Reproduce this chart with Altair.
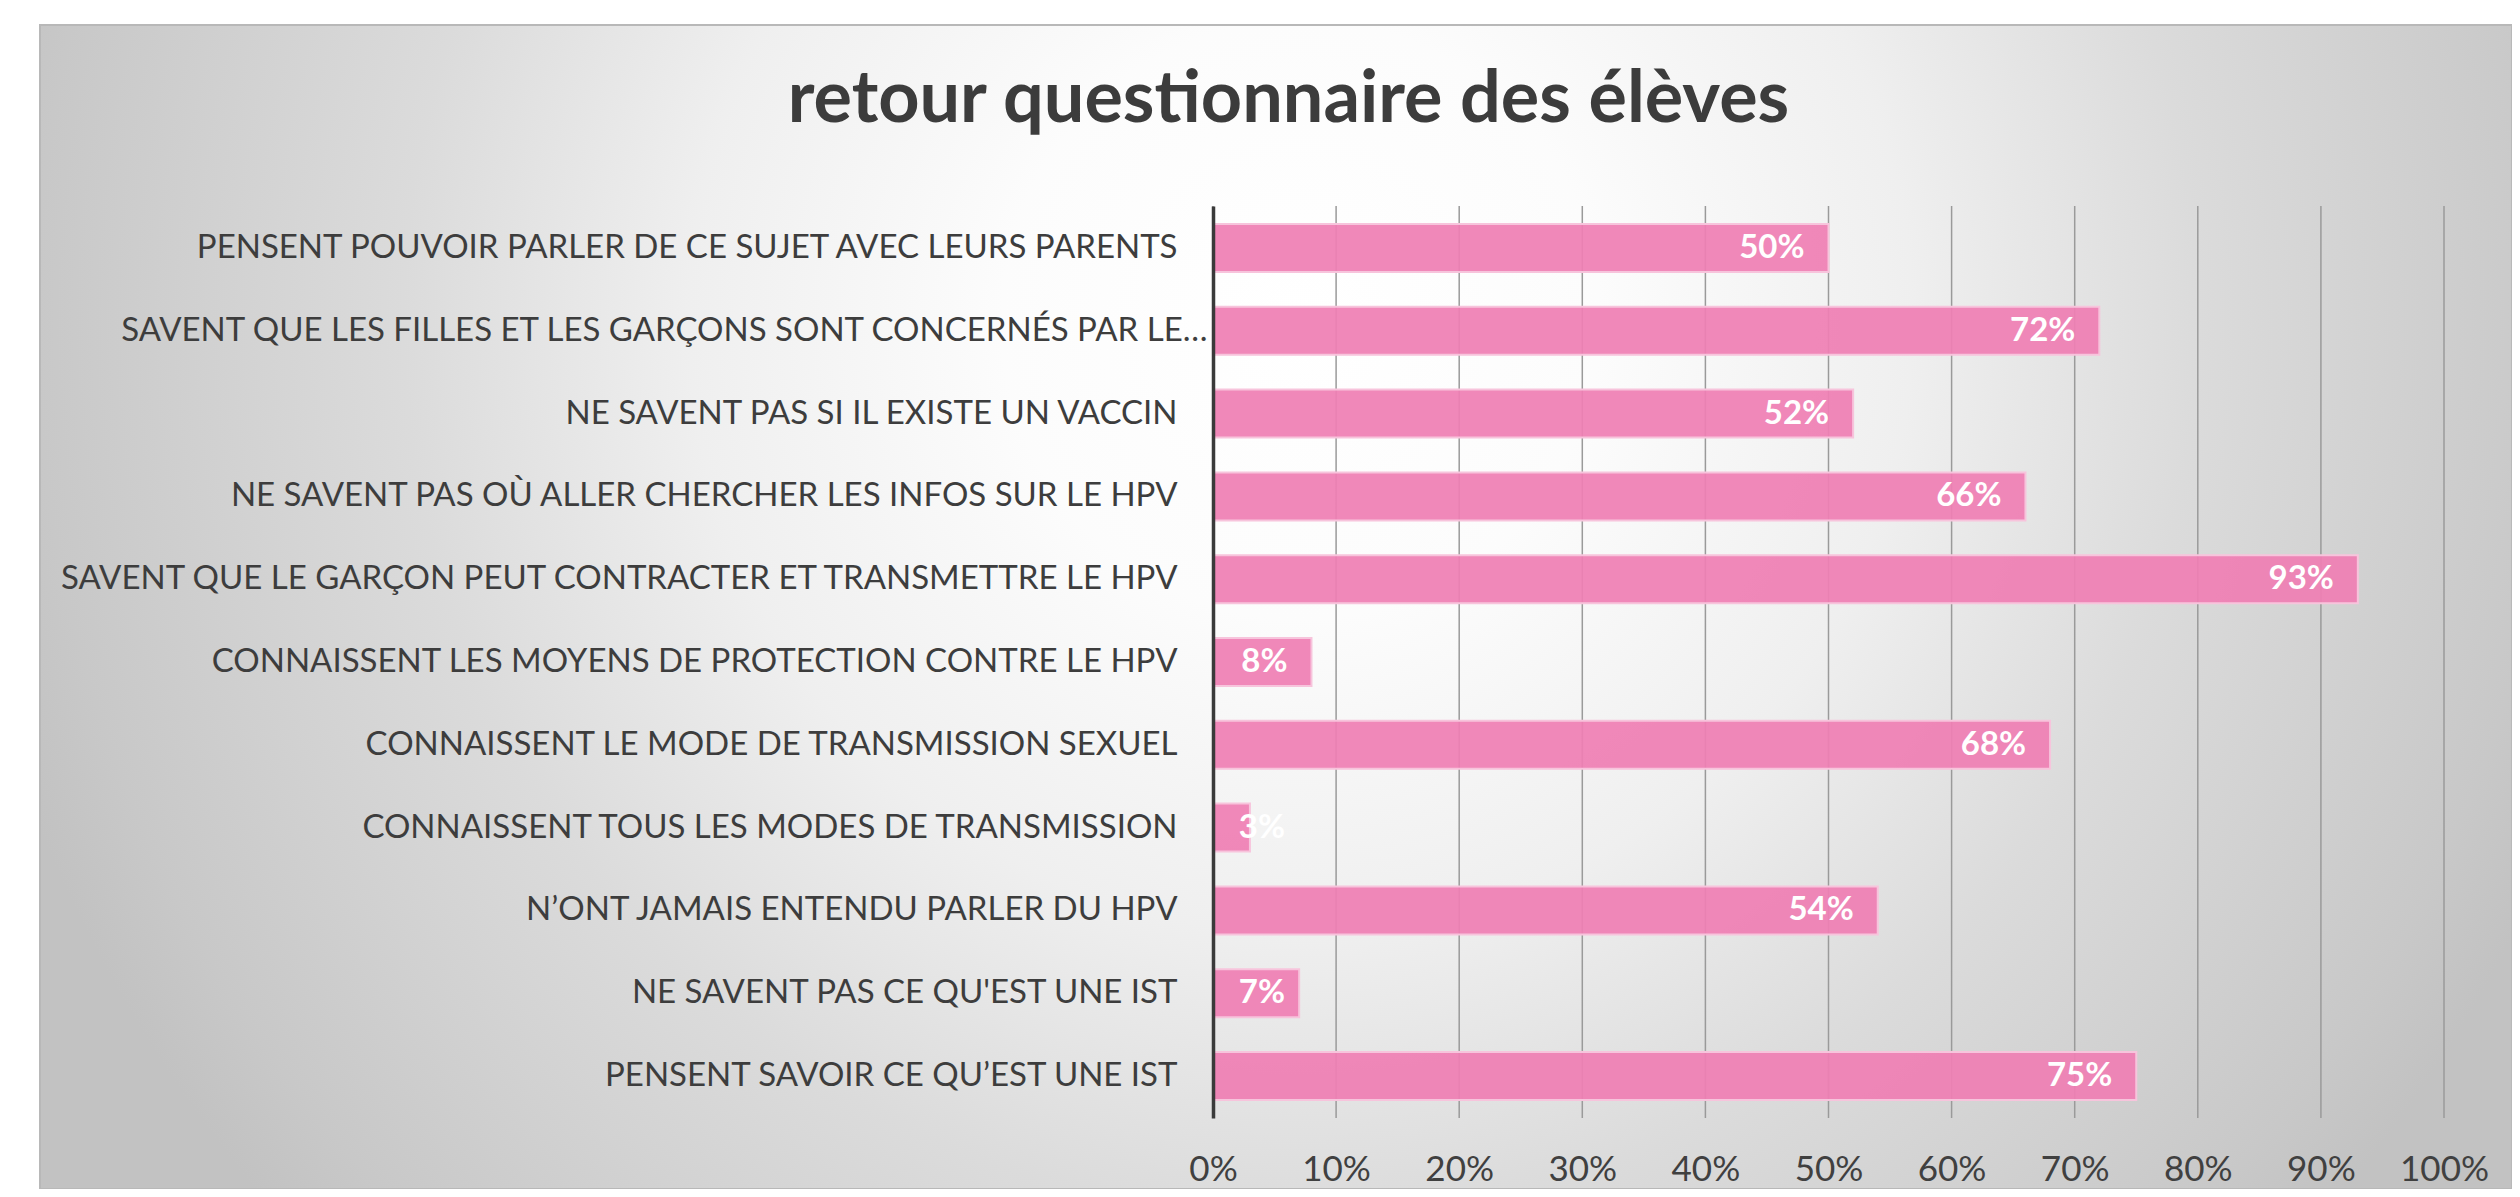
import altair as alt
import pandas as pd

categories = [
    "PENSENT POUVOIR PARLER DE CE SUJET AVEC LEURS PARENTS",
    "SAVENT QUE LES FILLES ET LES GARÇONS SONT CONCERNÉS PAR LE…",
    "NE SAVENT PAS SI IL EXISTE UN VACCIN",
    "NE SAVENT PAS OÙ ALLER CHERCHER LES INFOS SUR LE HPV",
    "SAVENT QUE LE GARÇON PEUT CONTRACTER ET TRANSMETTRE LE HPV",
    "CONNAISSENT LES MOYENS DE PROTECTION CONTRE LE HPV",
    "CONNAISSENT LE MODE DE TRANSMISSION SEXUEL",
    "CONNAISSENT TOUS LES MODES DE TRANSMISSION",
    "N’ONT  JAMAIS ENTENDU PARLER DU HPV",
    "NE SAVENT PAS CE QU'EST UNE IST",
    "PENSENT SAVOIR CE QU’EST UNE IST",
]
values = [50, 72, 52, 66, 93, 8, 68, 3, 54, 7, 75]
tick_values = [0, 10, 20, 30, 40, 50, 60, 70, 80, 90, 100]

df = pd.DataFrame({"cat": categories, "val": values})
df["label"] = df["val"].astype(str) + "%"
ticks_df = pd.DataFrame({"t": tick_values})

W, H = 1231, 912
PAD_L, PAD_T, PAD_R, PAD_B = 1205, 198, 68, 71
FONT = "Lato"

xscale = alt.Scale(domain=[0, 100], nice=False, zero=True)
yscale = alt.Scale(paddingInner=0.42, paddingOuter=0.217)

xaxis = alt.Axis(
    values=tick_values,
    labelExpr="datum.value + '%'",
    labelFlush=False,
    grid=False,
    domain=False,
    ticks=False,
    tickSize=0,
    labelPadding=34,
    labelFont=FONT,
    labelFontSize=35,
    labelColor="#404040",
    title=None,
    zindex=1,
)

gradient = {
    "gradient": "radial",
    "x1": 0.51, "y1": 0.384, "r1": 0,
    "x2": 0.51, "y2": 0.384, "r2": 0.55,
    "stops": [
        {"offset": 0.0, "color": "#ffffff"},
        {"offset": 0.22, "color": "#fcfcfc"},
        {"offset": 0.45, "color": "#efefef"},
        {"offset": 0.66, "color": "#dbdbdb"},
        {"offset": 0.93, "color": "#c8c8c8"},
        {"offset": 1.0, "color": "#c2c2c2"},
    ],
}

bg = alt.Chart(alt.Data(values=[{"bg": 1}])).mark_rect(
    fill=gradient, stroke="#b8b8b8", strokeWidth=2
).encode(
    x=alt.value(40 - (8 + PAD_L)),
    x2=alt.value(W + PAD_R),
    y=alt.value(25 - (8 + PAD_T)),
    y2=alt.value(H + PAD_B),
)

grid = alt.Chart(ticks_df).mark_rule(color="#9a9a9a", strokeWidth=1.5).encode(
    x=alt.X("t:Q", scale=xscale, axis=xaxis)
)

base = alt.Chart(df)

bars = base.mark_bar(
    fill="#ef7fb4", fillOpacity=0.93, stroke="#f7c4dc", strokeWidth=2
).encode(
    x=alt.X("val:Q", scale=xscale, axis=xaxis),
    y=alt.Y(
        "cat:N",
        sort=categories,
        scale=yscale,
        axis=alt.Axis(
            title=None,
            domain=True,
            domainColor="#3a3a3a",
            domainWidth=3.5,
            ticks=False,
            labelPadding={
                "condition": {"test": "indexof(datum.value, '…') >= 0", "value": 6},
                "value": 36,
            },
            labelLimit=1200,
            labelFont=FONT,
            labelFontSize=33,
            labelColor="#3d3d3d",
            zindex=1,
        ),
    ),
)

texts = base.transform_calculate(
    pos="max(datum.val, 7.8)"
).mark_text(
    align="right", baseline="middle", dx=-24, color="white",
    font=FONT, fontWeight="bold", fontSize=33,
).encode(
    x=alt.X("pos:Q", scale=xscale, axis=xaxis),
    y=alt.Y("cat:N", sort=categories, scale=yscale),
    text="label:N",
)

chart = alt.layer(bg, grid, bars, texts).properties(
    width=W,
    height=H,
    padding={"left": PAD_L, "top": PAD_T, "right": PAD_R, "bottom": PAD_B},
    autosize=alt.AutoSizeParams(type="none"),
    title=alt.TitleParams(
        "retour questionnaire des élèves",
        font=FONT,
        fontSize=72,
        fontWeight="bold",
        color="#3c3c3c",
        anchor="middle",
        frame="group",
        dx=-540,
        offset=-170,
        baseline="alphabetic",
    ),
).configure_view(stroke=None).configure(background="white")

chart.save("out.html", embed_options={"renderer": "svg", "actions": False})
